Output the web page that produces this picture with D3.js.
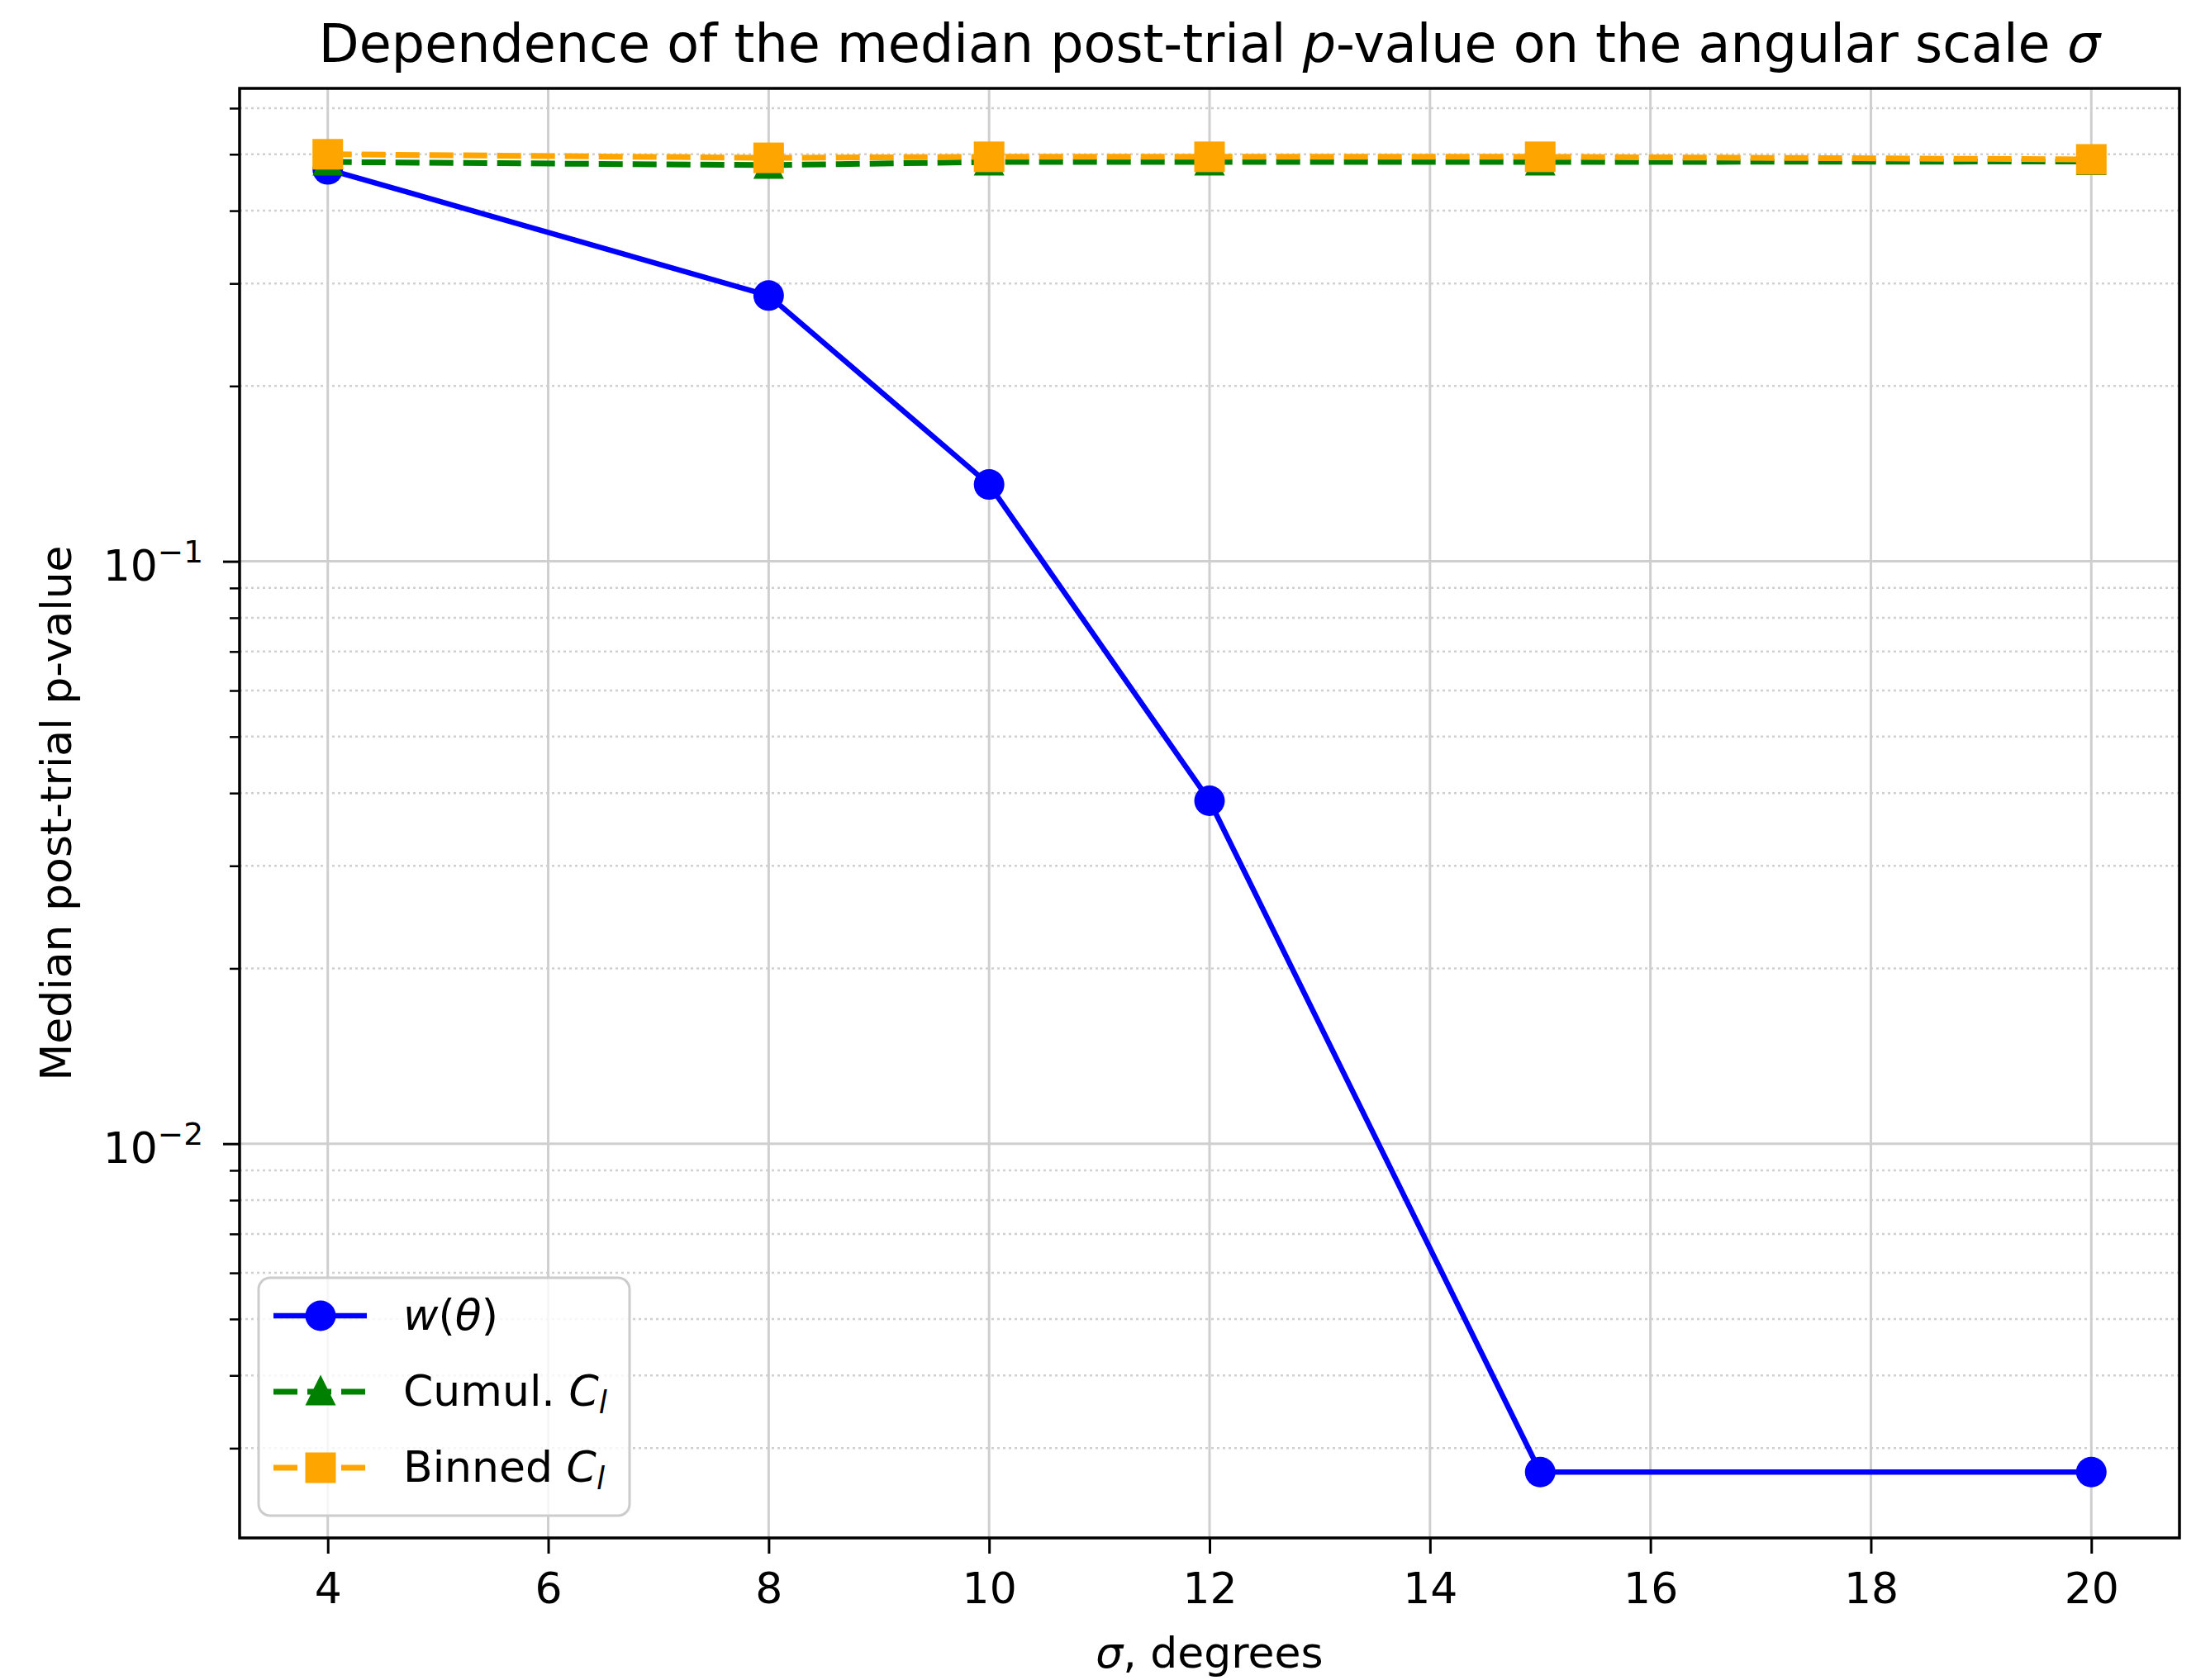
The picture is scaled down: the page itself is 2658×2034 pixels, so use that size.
<!DOCTYPE html>
<html>
<head>
<meta charset="utf-8">
<script src="https://cdn.jsdelivr.net/npm/d3@7"></script>
<style>
  html, body { margin: 0; padding: 0; background: #ffffff; }
  svg { display: block; }
  text { font-family: "DejaVu Sans", sans-serif; fill: #000; }
</style>
</head>
<body>
<script>
// ---------------- data ----------------
const sigmaDeg  = [4, 8, 10, 12, 15, 20];
const wTheta    = [0.471, 0.286, 0.1355, 0.0388, 0.00273, 0.00273];
const cumulCl   = [0.485, 0.479, 0.485, 0.485, 0.485, 0.486];
const binnedCl  = [0.500, 0.493, 0.495, 0.495, 0.495, 0.490];
const xTickValues = [4, 6, 8, 10, 12, 14, 16, 18, 20];
const yMajorTickValues = [0.1, 0.01];
const seriesNames = ["w(θ)", "Cumul. C_l", "Binned C_l"];

// ---------------- layout ----------------
const W = 2658, H = 2034;
const plot = { left: 290, right: 2638, top: 107, bottom: 1862 };
const FS = 52, TITLE_FS = 63.5;

const svg = d3.select("body").append("svg")
  .attr("width", W).attr("height", H)
  .attr("viewBox", `0 0 ${W} ${H}`);

// scales (matplotlib-like 5% margins)
const xMin = d3.min(sigmaDeg), xMax = d3.max(sigmaDeg);
const xPad = (xMax - xMin) * 0.05;
const x = d3.scaleLinear().domain([xMin - xPad, xMax + xPad]).range([plot.left, plot.right]);

const allY = wTheta.concat(cumulCl, binnedCl);
const lmin = Math.log10(d3.min(allY)), lmax = Math.log10(d3.max(allY));
const lpad = (lmax - lmin) * 0.05;
const y = d3.scaleLog().domain([Math.pow(10, lmin - lpad), Math.pow(10, lmax + lpad)])
  .range([plot.bottom, plot.top]);

// minor y values
const yDom = y.domain();
const yMinorVals = [];
for (let k = -4; k <= 1; k++) {
  for (let m = 2; m <= 9; m++) {
    const v = m * Math.pow(10, k);
    if (v >= yDom[0] && v <= yDom[1]) yMinorVals.push(v);
  }
}

// ---------------- grid ----------------
const grid = svg.append("g");
grid.selectAll(".ymin").data(yMinorVals).enter().append("line")
  .attr("x1", plot.left).attr("x2", plot.right)
  .attr("y1", d => y(d)).attr("y2", d => y(d))
  .attr("stroke", "#d0d0d0").attr("stroke-width", 2.5)
  .attr("stroke-dasharray", "3,4");
grid.selectAll(".ymaj").data(yMajorTickValues).enter().append("line")
  .attr("x1", plot.left).attr("x2", plot.right)
  .attr("y1", d => y(d)).attr("y2", d => y(d))
  .attr("stroke", "#cfcfcf").attr("stroke-width", 3);
grid.selectAll(".xmaj").data(xTickValues).enter().append("line")
  .attr("x1", d => x(d)).attr("x2", d => x(d))
  .attr("y1", plot.top).attr("y2", plot.bottom)
  .attr("stroke", "#cfcfcf").attr("stroke-width", 3);

// ---------------- series ----------------
const line = d3.line().x(d => x(d[0])).y(d => y(d[1]));
const zipS = vals => sigmaDeg.map((s, i) => [s, vals[i]]);

const series = [
  { name: seriesNames[0], vals: wTheta,   color: "#0000ff", dash: null,    width: 6.5, marker: "circle" },
  { name: seriesNames[1], vals: cumulCl,  color: "#008000", dash: "29,12", width: 7,   marker: "triangle" },
  { name: seriesNames[2], vals: binnedCl, color: "#ffa500", dash: "29,12", width: 7,   marker: "square" }
];

const MS = 37; // marker size (px)
function drawMarker(g, type, cx, cy, color, size) {
  if (type === "circle") {
    g.append("circle").attr("cx", cx).attr("cy", cy).attr("r", size / 2).attr("fill", color);
  } else if (type === "square") {
    g.append("rect").attr("x", cx - size / 2).attr("y", cy - size / 2)
      .attr("width", size).attr("height", size).attr("fill", color);
  } else {
    const h = size * 1.0;
    g.append("path")
      .attr("d", `M${cx},${cy - h / 2 - 2}L${cx + size / 2},${cy + h / 2 - 2}L${cx - size / 2},${cy + h / 2 - 2}Z`)
      .attr("fill", color);
  }
}

const plotG = svg.append("g");
series.forEach(s => {
  const g = plotG.append("g");
  g.append("path").datum(zipS(s.vals))
    .attr("d", line).attr("fill", "none")
    .attr("stroke", s.color).attr("stroke-width", s.width)
    .attr("stroke-dasharray", s.dash);
  zipS(s.vals).forEach(d => drawMarker(g, s.marker, x(d[0]), y(d[1]), s.color, MS));
});

// ---------------- axes frame ----------------
svg.append("rect")
  .attr("x", plot.left).attr("y", plot.top)
  .attr("width", plot.right - plot.left).attr("height", plot.bottom - plot.top)
  .attr("fill", "none").attr("stroke", "#000").attr("stroke-width", 3.5);

// x axis ticks + labels via d3.axisBottom
const xAxis = d3.axisBottom(x).tickValues(xTickValues).tickSize(19).tickPadding(23)
  .tickFormat(d3.format("d"));
const xg = svg.append("g").attr("transform", `translate(0,${plot.bottom})`).call(xAxis);
xg.select(".domain").remove();
xg.selectAll(".tick line").attr("stroke", "#000").attr("stroke-width", 3);
xg.selectAll(".tick text").attr("font-size", FS).attr("font-family", "DejaVu Sans").attr("fill", "#000");

// y axis: minor ticks
const yMinorAxis = d3.axisLeft(y).tickValues(yMinorVals).tickSize(12).tickFormat("");
const ygm = svg.append("g").attr("transform", `translate(${plot.left},0)`).call(yMinorAxis);
ygm.select(".domain").remove();
ygm.selectAll(".tick line").attr("stroke", "#000").attr("stroke-width", 2.5);

// y axis: major ticks with 10^k labels
const yAxis = d3.axisLeft(y).tickValues(yMajorTickValues).tickSize(20).tickFormat("");
const yg = svg.append("g").attr("transform", `translate(${plot.left},0)`).call(yAxis);
yg.select(".domain").remove();
yg.selectAll(".tick line").attr("stroke", "#000").attr("stroke-width", 3);
yg.selectAll(".tick").each(function(d) {
  const t = d3.select(this).append("text")
    .attr("x", -44).attr("y", 23).attr("text-anchor", "end")
    .attr("font-size", FS).attr("fill", "#000");
  t.append("tspan").text("10");
  t.append("tspan").attr("font-size", FS * 0.72).attr("dy", -22)
    .text("\u2212" + Math.round(-Math.log10(d)));
});

// ---------------- labels ----------------
const xl = svg.append("text")
  .attr("x", (plot.left + plot.right) / 2).attr("y", 2019)
  .attr("text-anchor", "middle").attr("font-size", FS);
xl.append("tspan").attr("font-style", "italic").text("σ");
xl.append("tspan").text(", degrees");

svg.append("text")
  .attr("transform", `translate(86,${(plot.top + plot.bottom) / 2}) rotate(-90)`)
  .attr("text-anchor", "middle").attr("font-size", FS)
  .text("Median post-trial p-value");

const title = svg.append("text")
  .attr("x", (plot.left + plot.right) / 2).attr("y", 75)
  .attr("text-anchor", "middle").attr("font-size", TITLE_FS);
title.append("tspan").text("Dependence of the median post-trial ");
title.append("tspan").attr("font-style", "italic").text("p");
title.append("tspan").text("-value on the angular scale ");
title.append("tspan").attr("font-style", "italic").text("σ");

// ---------------- legend ----------------
const leg = svg.append("g");
const legBox = { x: 313, y: 1547, w: 449, h: 288 };
leg.append("rect").attr("x", legBox.x).attr("y", legBox.y)
  .attr("width", legBox.w).attr("height", legBox.h).attr("rx", 14)
  .attr("fill", "#ffffff").attr("fill-opacity", 0.8)
  .attr("stroke", "#cccccc").attr("stroke-width", 3);

const legY = d3.scalePoint().domain(seriesNames).range([1593, 1777]);
series.forEach(s => {
  const cy = legY(s.name);
  const g = leg.append("g");
  g.append("line").attr("x1", 331).attr("x2", 444).attr("y1", cy).attr("y2", cy)
    .attr("stroke", s.color).attr("stroke-width", s.width)
    .attr("stroke-dasharray", s.dash);
  drawMarker(g, s.marker, 388, cy, s.color, MS);
  const t = g.append("text").attr("x", 488).attr("y", cy + 17).attr("font-size", FS);
  if (s.name === "w(θ)") {
    t.append("tspan").attr("font-style", "italic").text("w");
    t.append("tspan").text("(");
    t.append("tspan").attr("font-style", "italic").text("θ");
    t.append("tspan").text(")");
  } else {
    t.append("tspan").text(s.name.split(" ")[0] + " ");
    t.append("tspan").attr("font-style", "italic").text("C");
    t.append("tspan").attr("font-style", "italic").attr("font-size", FS * 0.7).attr("dy", 9).text("l");
  }
});
</script>
</body>
</html>
